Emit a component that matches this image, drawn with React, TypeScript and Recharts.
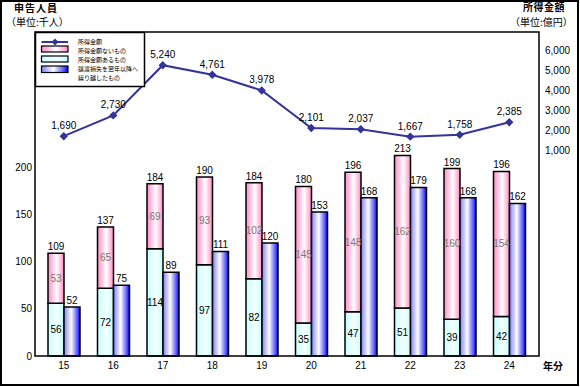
import React from 'react';
import { ComposedChart, Bar, Line, XAxis, YAxis, LabelList } from 'recharts';

const years = ['15', '16', '17', '18', '19', '20', '21', '22', '23', '24'];
const withIncome = [56, 72, 114, 97, 82, 35, 47, 51, 39, 42];
const noIncome = [53, 65, 69, 93, 102, 145, 148, 162, 160, 154];
const peopleTotal = [109, 137, 184, 190, 184, 180, 196, 213, 199, 196];
const carriedOver = [52, 75, 89, 111, 120, 153, 168, 179, 168, 162];
const incomeAmount = [1690, 2730, 5240, 4761, 3978, 2101, 2037, 1667, 1758, 2385];
const leftTicks = [0, 50, 100, 150, 200];
const rightTicks = [1000, 2000, 3000, 4000, 5000, 6000];

const data = years.map((y, i) => ({
  year: y,
  withIncome: withIncome[i],
  noIncome: noIncome[i],
  total: peopleTotal[i],
  carried: carriedOver[i],
  income: incomeAmount[i],
}));

const NUM_FONT = '"Liberation Sans", Arial, sans-serif';
const JP_FONT = '"Noto Sans CJK JP", sans-serif';
const LINE_COLOR = '#333399';

const fmt = (v: any) => Number(v).toLocaleString('en-US');

const diamondPath = (cx: number, cy: number, r: number) =>
  `M${cx},${cy - r}L${cx + r},${cy}L${cx},${cy + r}L${cx - r},${cy}Z`;

const renderDot = (props: any) => {
  const { cx, cy, index } = props;
  if (cx == null || cy == null) return <g key={`d${index}`} />;
  return <path key={`d${index}`} d={diamondPath(cx, cy, 4.2)} fill={LINE_COLOR} />;
};

const tickStyle = { fill: '#000', fontSize: 10, fontFamily: NUM_FONT };

const Gradients = () => (
  <defs>
    <linearGradient id="gPink" x1="0" y1="0" x2="1" y2="0">
      <stop offset="0" stopColor="#ff8cc6" />
      <stop offset="0.55" stopColor="#ffffff" />
      <stop offset="1" stopColor="#ff8cc6" />
    </linearGradient>
    <linearGradient id="gCyan" x1="0" y1="0" x2="1" y2="0">
      <stop offset="0" stopColor="#c4ffff" />
      <stop offset="0.55" stopColor="#f6ffff" />
      <stop offset="1" stopColor="#c4ffff" />
    </linearGradient>
    <linearGradient id="gBlue" x1="0" y1="0" x2="1" y2="0">
      <stop offset="0" stopColor="#8080ff" />
      <stop offset="0.45" stopColor="#ffffff" />
      <stop offset="0.85" stopColor="#5050ff" />
      <stop offset="1" stopColor="#0000ff" />
    </linearGradient>
  </defs>
);

const Overlay = () => (
  <svg
    width={580}
    height={387}
    style={{ position: 'absolute', left: 0, top: 0, pointerEvents: 'none' }}
  >
    <Gradients />
    <rect x={1} y={1} width={577} height={384} fill="none" stroke="#000" strokeWidth={2} />
    <rect x={35} y={32} width={504} height={324} fill="none" stroke="#000" strokeWidth={1.5} />
    <text x={14} y={12} fontSize={10} fontWeight="bold" fontFamily={JP_FONT} fill="#000" letterSpacing={1}>申告人員</text>
    <text x={6} y={26} fontSize={10} fontFamily={JP_FONT} fill="#000">（単位:千人）</text>
    <text x={523} y={11} fontSize={10} fontWeight="bold" fontFamily={JP_FONT} fill="#000" letterSpacing={0.5}>所得金額</text>
    <text x={510} y={26} fontSize={10} fontFamily={JP_FONT} fill="#000">（単位:億円）</text>
    <text x={543} y={370} fontSize={10} fontWeight="bold" fontFamily={JP_FONT} fill="#000">年分</text>
    {/* legend */}
    <rect x={35.5} y={32.5} width={109} height={54} fill="#fff" stroke="#000" strokeWidth={1.5} />
    <line x1={41.5} y1={42} x2={68} y2={42} stroke={LINE_COLOR} strokeWidth={2} />
    <path d={diamondPath(55, 42, 3.5)} fill={LINE_COLOR} />
    <rect x={41.5} y={46} width={26.5} height={6} fill="url(#gPink)" stroke="#000" strokeWidth={1.2} />
    <rect x={41.5} y={56} width={26.5} height={6} fill="url(#gCyan)" stroke="#000" strokeWidth={1.2} />
    <rect x={41.5} y={66} width={26.5} height={6.5} fill="url(#gBlue)" stroke="#000" strokeWidth={1.2} />
    <g fontSize={6} fontFamily={JP_FONT} fill="#000">
      <text x={78} y={44.1}>所得金額</text>
      <text x={78} y={52.8}>所得金額ないもの</text>
      <text x={78} y={62.2}>所得金額あるもの</text>
      <text x={78} y={71.4}>譲渡損失を翌年以降へ</text>
      <text x={78} y={79.6}>繰り越したもの</text>
    </g>
  </svg>
);

export default function App() {
  return (
    <div style={{ position: 'absolute', left: 0, top: 0, width: 580, height: 387, background: '#fff' }}>
      <ComposedChart
        width={580}
        height={387}
        data={data}
        margin={{ top: 32, right: 0, bottom: 0, left: 8 }}
        barGap={0}
      >
        <Gradients />
        <XAxis
          dataKey="year"
          padding={{ left: 4, right: 5 }}
          axisLine={false}
          tickLine={false}
          tickSize={0}
          tickMargin={6}
          height={31}
          interval={0}
          tick={tickStyle}
        />
        <YAxis
          yAxisId="left"
          domain={[0, 344]}
          ticks={leftTicks}
          width={27}
          axisLine={false}
          tickLine={false}
          tickSize={0}
          tickMargin={3}
          interval={0}
          tick={tickStyle}
        />
        <YAxis
          yAxisId="right"
          orientation="right"
          domain={[-9300, 6900]}
          ticks={rightTicks}
          width={41}
          axisLine={false}
          tickLine={false}
          tickSize={0}
          tickMargin={6}
          interval={0}
          tickFormatter={fmt}
          tick={tickStyle}
        />
        <Bar
          yAxisId="left"
          dataKey="withIncome"
          stackId="a"
          barSize={16}
          fill="url(#gCyan)"
          stroke="#000"
          strokeWidth={1.5}
          isAnimationActive={false}
        >
          <LabelList dataKey="withIncome" position="center" fill="#000" fontSize={10} fontFamily={NUM_FONT} />
        </Bar>
        <Bar
          yAxisId="left"
          dataKey="noIncome"
          stackId="a"
          barSize={16}
          fill="url(#gPink)"
          stroke="#000"
          strokeWidth={1.5}
          isAnimationActive={false}
        >
          <LabelList dataKey="noIncome" position="center" fill="#777" fontSize={10} fontFamily={NUM_FONT} />
          <LabelList dataKey="total" position="top" offset={3} fill="#000" fontSize={10} fontFamily={NUM_FONT} />
        </Bar>
        <Bar
          yAxisId="left"
          dataKey="carried"
          barSize={16}
          fill="url(#gBlue)"
          stroke="#000"
          strokeWidth={1.5}
          isAnimationActive={false}
        >
          <LabelList dataKey="carried" position="top" offset={3} fill="#000" fontSize={10} fontFamily={NUM_FONT} />
        </Bar>
        <Line
          yAxisId="right"
          dataKey="income"
          stroke={LINE_COLOR}
          strokeWidth={2}
          dot={renderDot}
          activeDot={false}
          isAnimationActive={false}
        >
          <LabelList dataKey="income" position="top" offset={7} fill="#000" fontSize={10} fontFamily={NUM_FONT} formatter={fmt} />
        </Line>
      </ComposedChart>
      <Overlay />
    </div>
  );
}
